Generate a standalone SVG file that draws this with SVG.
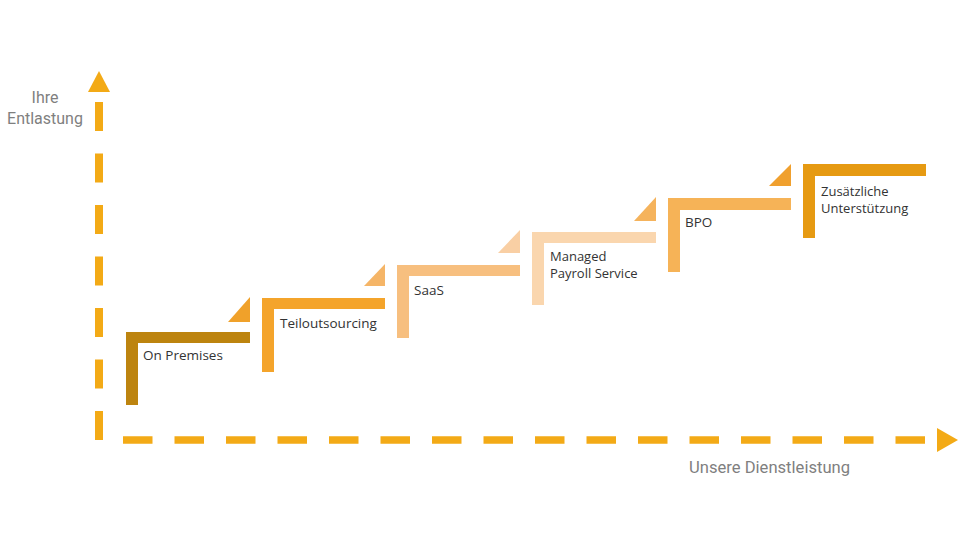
<svg xmlns="http://www.w3.org/2000/svg" width="960" height="540" viewBox="0 0 960 540">
  <style>
    .axis { fill: none; stroke: #F3AA16; }
    .head { fill: #F3AA16; }
    .lbl { font-family: "Open Sans", "Liberation Sans", sans-serif; font-size: 13.5px; fill: #333333; }
    .lbl2 { font-family: "Open Sans", "Liberation Sans", sans-serif; font-size: 13px; fill: #333333; }
    .ax { font-family: Roboto, "Liberation Sans", sans-serif; font-size: 16px; fill: #7F7F7F; }
  </style>
  <rect width="960" height="540" fill="#FFFFFF"/>
  <g id="connectors">
    <line class="axis" x1="99" y1="440" x2="99" y2="102" stroke-width="8" stroke-dasharray="29 22.5"/>
    <polygon class="head" points="88,92 99,71 110,92"/>
    <line class="axis" x1="123" y1="440" x2="926" y2="440" stroke-width="7.5" stroke-dasharray="29.5 22"/>
    <polygon class="head" points="937,428 958,440 937,452"/>
  </g>
  <g id="axis-y-label">
    <text class="ax" x="45" y="103" text-anchor="middle">Ihre</text>
    <text class="ax" x="45" y="124" text-anchor="middle">Entlastung</text>
  </g>
  <g id="axis-x-label">
    <text class="ax" x="689" y="473" style="font-size:16.6px">Unsere Dienstleistung</text>
  </g>
  <g id="step-on-premises">
    <path d="M126,332 H250 V343 H138 V405 H126 Z" fill="#BD840F"/>
    <text class="lbl" x="143" y="360">On Premises</text>
  </g>
  <g id="triangle-1"><polygon points="228,322 250,322 250,297" fill="#F0A12A"/></g>
  <g id="step-teiloutsourcing">
    <path d="M262,298 H385 V309 H274 V372 H262 Z" fill="#F4A42B"/>
    <text class="lbl" x="280" y="328">Teiloutsourcing</text>
  </g>
  <g id="triangle-2"><polygon points="364,286 385,286 385,264" fill="#F5B567"/></g>
  <g id="step-saas">
    <path d="M397,265 H520 V276 H409 V338 H397 Z" fill="#F7BF7F"/>
    <text class="lbl" x="414" y="295">SaaS</text>
  </g>
  <g id="triangle-3"><polygon points="498,253 520,253 520,230" fill="#F9CFA4"/></g>
  <g id="step-managed">
    <path d="M532,232 H656 V243 H544 V305 H532 Z" fill="#FAD6AE"/>
    <text class="lbl2" x="550" y="261">Managed</text>
    <text class="lbl2" x="550" y="278">Payroll Service</text>
  </g>
  <g id="triangle-4"><polygon points="634,221 656,221 656,197" fill="#F5B35C"/></g>
  <g id="step-bpo">
    <path d="M668,198 H791 V210 H680 V272 H668 Z" fill="#F6B357"/>
    <text class="lbl" x="685" y="227">BPO</text>
  </g>
  <g id="triangle-5"><polygon points="769,186 791,186 791,164" fill="#F0A02E"/></g>
  <g id="step-zusaetzlich">
    <path d="M803,164 H926 V176 H815 V238 H803 Z" fill="#E69A12"/>
    <text class="lbl2" x="821" y="196">Zusätzliche</text>
    <text class="lbl2" x="821" y="213">Unterstützung</text>
  </g>
</svg>
